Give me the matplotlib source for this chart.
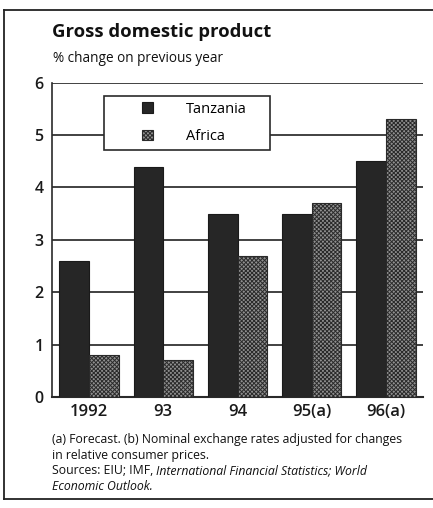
import matplotlib
matplotlib.use("Agg")
import matplotlib.pyplot as plt
import numpy as np
from matplotlib.patches import Rectangle
from matplotlib.legend_handler import HandlerPatch
from matplotlib.lines import Line2D

plt.rcParams['font.family'] = ['Open Sans', 'DejaVu Sans']

# data
years = ["1992", "93", "94", "95(a)", "96(a)"]
tanzania = [2.6, 4.4, 3.5, 3.5, 4.5]
africa = [0.8, 0.7, 2.7, 3.7, 5.3]

W, H = 433, 508
fig = plt.figure(figsize=(W / 100, H / 100), dpi=100)
ax = fig.add_axes([52 / W, 1 - 397 / H, 371 / W, (397 - 82.7) / H])

x = np.arange(len(years))
bw = 0.4
plt.rcParams['hatch.linewidth'] = 0.7
plt.rcParams['hatch.color'] = '#333333'
b1 = ax.bar(x - bw / 2, tanzania, bw, color='#262626', edgecolor='#1a1a1a',
            lw=0.8, zorder=3, label='Tanzania')
b2 = ax.bar(x + bw / 2, africa, bw, color='#909090', edgecolor='#2a2a2a',
            hatch='xxxxxxxx', lw=0.8, zorder=3, label='Africa')

ax.set_xlim(-0.5, 4.5)
ax.set_ylim(0, 6)
ax.set_yticks(range(0, 7))
ax.yaxis.grid(True, color='#333333', lw=1.3, zorder=0)
ax.set_axisbelow(True)
for s in ['top', 'right']:
    ax.spines[s].set_visible(False)
ax.spines['left'].set_color('#2a2a2a')
ax.spines['bottom'].set_color('#2a2a2a')
ax.spines['left'].set_linewidth(1.2)
ax.spines['bottom'].set_linewidth(1.5)
ax.tick_params(length=0)
ax.set_xticks(x)
ax.set_xticklabels(years, fontsize=12, fontweight='semibold', color='#1a1a1a')
for t in ax.get_yticklabels():
    t.set_fontsize(11.5)
    t.set_fontweight('semibold')
    t.set_color('#1a1a1a')
ax.tick_params(axis='y', pad=6)
ax.tick_params(axis='x', pad=5)


def sq(legend, orig_handle, xdescent, ydescent, width, height, fontsize):
    return Rectangle((-xdescent + width - height, -ydescent), height, height)


h1, h2 = b1.patches[0], b2.patches[0]
leg = ax.legend(handles=[h1, h2], labels=['Tanzania', 'Africa'], loc='upper left',
                bbox_to_anchor=(0.14, 0.958, 0.448, 0.0), mode='expand',
                borderaxespad=0, fontsize=10.5, frameon=True, fancybox=False,
                edgecolor='#2a2a2a', framealpha=1, borderpad=0.4,
                labelspacing=0.85, handlelength=2.95, handleheight=0.75,
                handletextpad=2.3,
                handler_map={h1: HandlerPatch(patch_func=sq),
                             h2: HandlerPatch(patch_func=sq)})
leg.get_frame().set_linewidth(1.2)
leg.set_zorder(5)

fig.text(52 / W, 1 - 32 / H, "Gross domestic product", fontsize=13.3,
         fontweight='bold', va='center', ha='left', color='#111')
fig.text(53 / W, 1 - 58 / H, "% change on previous year", fontsize=9.8,
         va='center', ha='left', color='#111')

fs = 8.8
fig.text(52 / W, 1 - 440 / H,
         "(a) Forecast. (b) Nominal exchange rates adjusted for changes",
         fontsize=fs, va='center', color='#111')
fig.text(52 / W, 1 - 455.5 / H, "in relative consumer prices.",
         fontsize=fs, va='center', color='#111')
t3 = fig.text(52 / W, 1 - 471 / H, "Sources: EIU; IMF, ",
              fontsize=fs, va='center', color='#111')
fig.canvas.draw()
r = fig.canvas.get_renderer()
bb = t3.get_window_extent(r)
fig.text(bb.x1 / W, 1 - 471 / H, "International Financial Statistics; World",
         fontsize=fs, va='center', style='italic', color='#111')
fig.text(52 / W, 1 - 486.5 / H, "Economic Outlook.",
         fontsize=fs, va='center', style='italic', color='#111')

# frame around the graphic (open at right)
fig.add_artist(Line2D([4 / W, 4 / W], [1 - 10 / H, 1 - 499 / H], color='#222', lw=1.3))
fig.add_artist(Line2D([4 / W, 1], [1 - 10 / H, 1 - 10 / H], color='#222', lw=1.3))
fig.add_artist(Line2D([4 / W, 1], [1 - 499 / H, 1 - 499 / H], color='#222', lw=1.3))

fig.savefig("out.png", dpi=100)
